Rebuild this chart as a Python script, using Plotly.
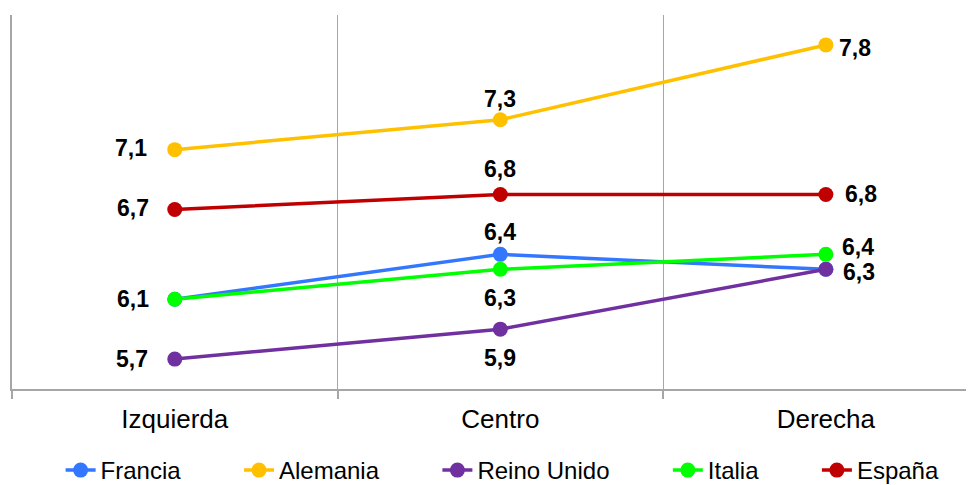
import plotly.graph_objects as go

categories = ["Izquierda", "Centro", "Derecha"]
series_names = ["Francia", "Alemania", "Reino Unido", "Italia", "España"]
francia = [6.1, 6.4, 6.3]
alemania = [7.1, 7.3, 7.8]
reino_unido = [5.7, 5.9, 6.3]
italia = [6.1, 6.3, 6.4]
espana = [6.7, 6.8, 6.8]

colors = ["#3377FF", "#FFC000", "#7030A0", "#00FF00", "#C00000"]
values = [francia, alemania, reino_unido, italia, espana]

# which point labels are shown (overlapping ones hidden in the original)
show = [
    [False, True, False],
    [True, True, True],
    [True, True, True],
    [True, True, True],
    [True, True, True],
]
# label offsets (pixels) per series/point: (xshift, yshift, xanchor)
label_style = [
    [(-25, 0, "right"), (0, 22, "center"), (16, 0, "left")],
    [(-26, 2, "right"), (0, 21, "center"), (11, -3, "left")],
    [(-25, 0, "right"), (0, -29, "center"), (15, -3, "left")],
    [(-24, 0, "right"), (0, -29, "center"), (14, 7, "left")],
    [(-24, 1, "right"), (0, 26, "center"), (17, 1, "left")],
]

def fmt(v):
    return f"{v:.1f}".replace(".", ",")

FONT = "Liberation Sans, Arial, sans-serif"
PAD = "\u00a0" * 8

fig = go.Figure()
annotations = []
n = len(series_names)
for k, (name, vals, col, sh, st) in enumerate(zip(series_names, values, colors, show, label_style)):
    fig.add_trace(go.Scatter(
        x=categories, y=vals, name=name + (PAD if k < n - 1 else ""), mode="lines+markers",
        line=dict(color=col, width=3.5),
        marker=dict(color=col, size=15),
        cliponaxis=False,
    ))
    for i, v in enumerate(vals):
        if not sh[i]:
            continue
        xs, ys, xa = st[i]
        annotations.append(dict(
            x=categories[i], y=v, xref="x", yref="y", text=fmt(v), showarrow=False,
            xanchor=xa, yanchor="middle", xshift=xs, yshift=ys,
            font=dict(family=FONT, size=23, color="#000000", weight="bold"),
        ))

fig.update_layout(
    width=966, height=485,
    margin=dict(l=4, r=0, t=7, b=103),
    paper_bgcolor="white", plot_bgcolor="white",
    font=dict(family=FONT, size=22, color="#000000"),
    showlegend=True,
    annotations=annotations,
    legend=dict(orientation="h", x=0.51, xanchor="center", y=-0.2187, yanchor="middle",
                font=dict(size=24), traceorder="normal"),
)
fig.update_xaxes(
    type="category", range=[-0.5, 2.455],
    showline=True, linecolor="#A6A6A6", linewidth=2,
    showgrid=True, gridcolor="#A6A6A6", gridwidth=1,
    tickson="boundaries", ticks="outside", ticklen=8, tickcolor="#A6A6A6", tickwidth=2,
    tickfont=dict(size=26), ticklabelstandoff=6, zeroline=False,
)
fig.update_yaxes(
    range=[5.5, 8.0], showgrid=False, showticklabels=False,
    showline=True, linecolor="#A6A6A6", linewidth=2, zeroline=False,
    ticks="",
)
fig.write_html("out.html")
